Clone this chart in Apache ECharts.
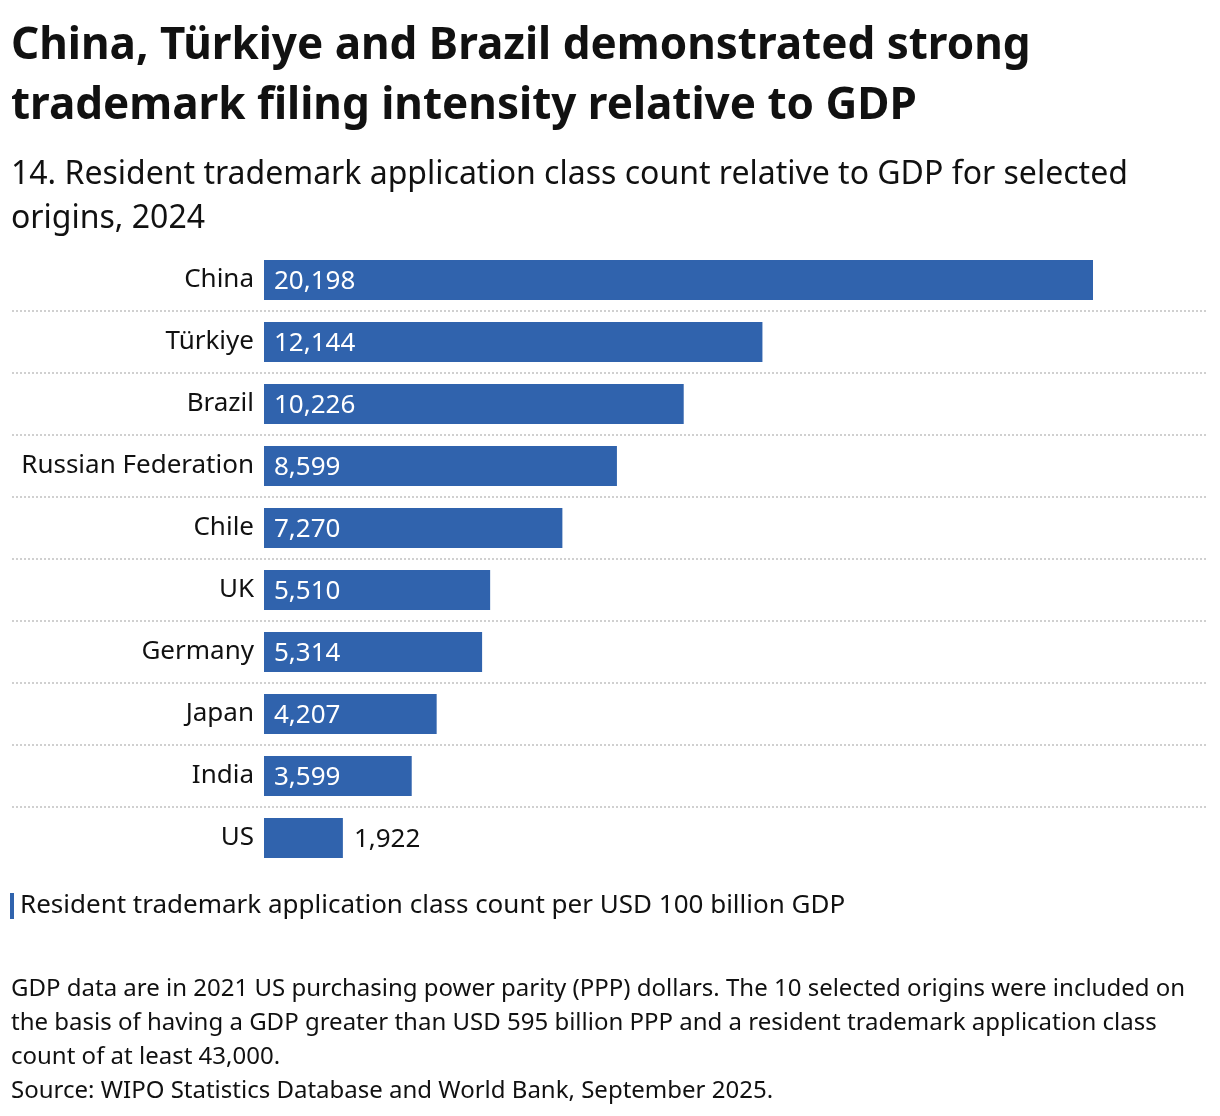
<!DOCTYPE html>
<html>
<head>
<meta charset="utf-8">
<script src="https://cdn.jsdelivr.net/npm/echarts@6/dist/echarts.min.js"></script>
<style>
  html, body { margin: 0; padding: 0; background: #fff; }
  #container { width: 1220px; height: 1116px; }
</style>
</head>
<body>
<div id="container"></div>
<script>
var origins = ['China', 'Türkiye', 'Brazil', 'Russian Federation', 'Chile', 'UK', 'Germany', 'Japan', 'India', 'US'];
var classCounts = [20198, 12144, 10226, 8599, 7270, 5510, 5314, 4207, 3599, 1922];
var seriesName = 'Resident trademark application class count per USD 100 billion GDP';

var FONT = '"Noto Sans", "Open Sans", sans-serif';
var BAR = '#3063ad';

var dom = document.getElementById('container');
var myChart = echarts.init(dom);

// bars too short for an inside label get it on the right
var barData = classCounts.map(function (v) {
  if (v < 3000) {
    return {
      value: v,
      label: { position: 'right', color: '#111', distance: 11 }
    };
  }
  return v;
});

var option = {
  backgroundColor: '#fff',
  textStyle: { fontFamily: FONT },
  title: [
    {
      text: 'China, Türkiye and Brazil demonstrated strong\ntrademark filing intensity relative to GDP',
      left: 11,
      top: 16,
      padding: 0,
      textStyle: { fontFamily: FONT, fontSize: 44, fontWeight: 'bold', color: '#111', lineHeight: 60 }
    },
    {
      text: '14. Resident trademark application class count relative to GDP for selected\norigins, 2024',
      left: 11,
      top: 153,
      padding: 0,
      textStyle: { fontFamily: FONT, fontSize: 32, fontWeight: 'normal', color: '#111', lineHeight: 44 }
    },
    {
      text: 'GDP data are in 2021 US purchasing power parity (PPP) dollars. The 10 selected origins were included on\nthe basis of having a GDP greater than USD 595 billion PPP and a resident trademark application class\ncount of at least 43,000.\nSource: WIPO Statistics Database and World Bank, September 2025.',
      left: 11,
      top: 972,
      padding: 0,
      textStyle: { fontFamily: FONT, fontSize: 24, fontWeight: 'normal', color: '#111', lineHeight: 34 }
    }
  ],
  legend: {
    data: [seriesName],
    left: 5,
    top: 888,
    icon: 'rect',
    itemWidth: 4,
    itemHeight: 26,
    selectedMode: false,
    textStyle: { fontFamily: FONT, fontSize: 26, color: '#111', padding: [0, 0, 0, 1] }
  },
  grid: {
    left: 264,
    right: 12,
    top: 249,
    bottom: 247,
    containLabel: false
  },
  xAxis: {
    type: 'value',
    min: 0,
    max: 23000,
    show: false
  },
  yAxis: {
    type: 'category',
    data: origins,
    inverse: true,
    axisLine: { show: false },
    axisTick: { show: false },
    splitLine: { show: false },
    axisLabel: {
      fontFamily: FONT,
      fontSize: 26,
      color: '#111',
      margin: 10,
      padding: [2, 0, 0, 0]
    }
  },
  series: [
    {
      name: seriesName,
      type: 'bar',
      data: barData,
      barWidth: 40,
      itemStyle: { color: BAR },
      label: {
        show: true,
        position: 'insideLeft',
        distance: 10,
        offset: [0, 2],
        fontFamily: FONT,
        fontSize: 26,
        color: '#fff',
        formatter: function (p) {
          return p.value.toLocaleString('en-US');
        }
      }
    }
  ]
};

myChart.setOption(option);

// dotted separators between rows, spanning the full width
var lines = [];
for (var i = 0; i < origins.length - 1; ++i) {
  var y0 = myChart.convertToPixel({ yAxisIndex: 0 }, i);
  var y1 = myChart.convertToPixel({ yAxisIndex: 0 }, i + 1);
  var y = Math.round((y0 + y1) / 2);
  lines.push({
    type: 'line',
    shape: { x1: 12, y1: y, x2: 1208, y2: y },
    style: { stroke: '#d0d0d0', lineWidth: 2, lineDash: [2, 2] },
    silent: true
  });
}
myChart.setOption({ graphic: lines });

window.onresize = function () {
  myChart.resize();
};
</script>
</body>
</html>
